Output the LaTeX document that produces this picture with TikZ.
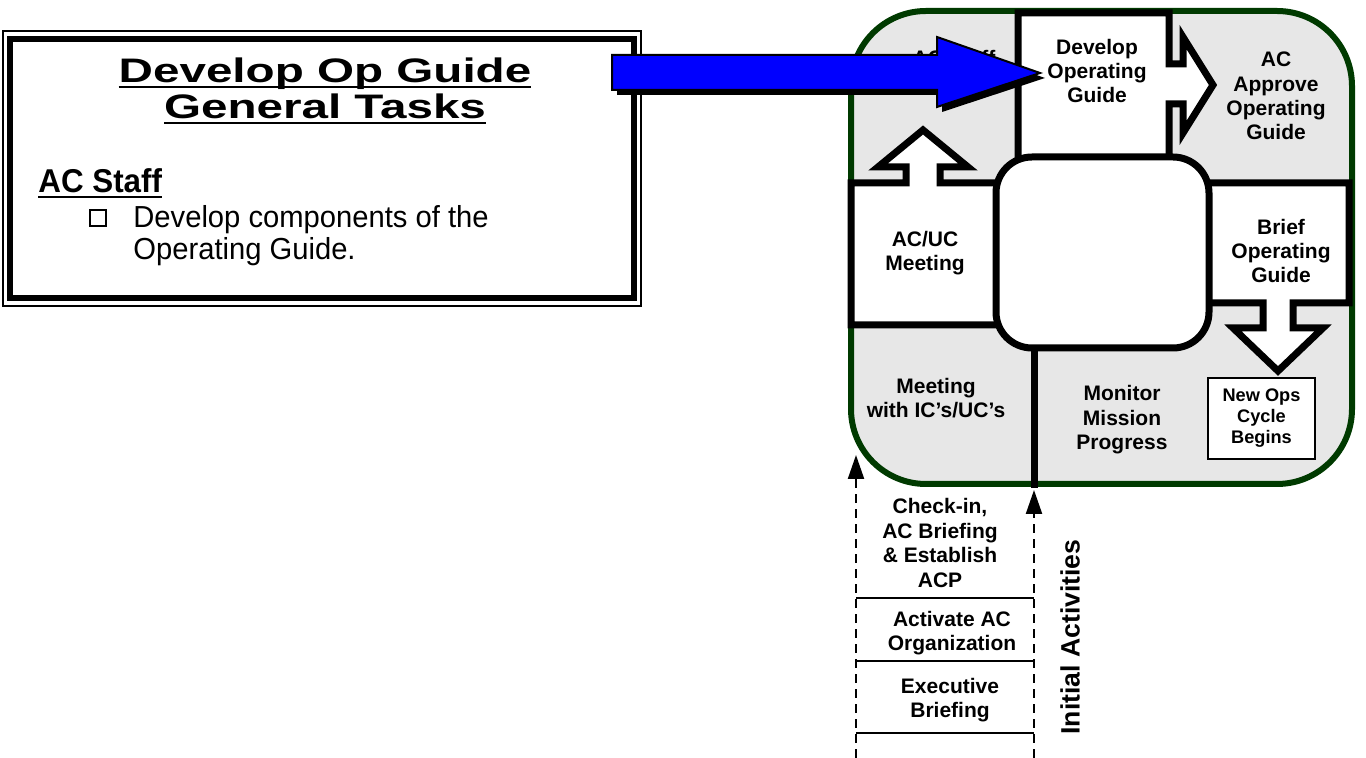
\documentclass[tikz,border=0pt]{standalone}
\usepackage{fontspec}
\setmainfont{Liberation Sans}
\newfontfamily\titlefont[FakeStretch=1.4]{Liberation Sans}
\newfontfamily\headfont[FakeStretch=0.95]{Liberation Sans}
\newfontfamily\narrowfont[FakeStretch=0.96]{Liberation Sans}
\usetikzlibrary{arrows.meta}

\definecolor{panelgray}{RGB}{231,231,231}
\definecolor{rimgreen}{RGB}{0,58,0}
\definecolor{pointerblue}{RGB}{0,0,255}

% underline at a fixed depth, crossing the descenders
\newsavebox\ulbox
\newcommand{\ultext}[1]{\sbox\ulbox{#1}\rlap{\rule[-2.6pt]{\wd\ulbox}{1.2pt}}\usebox\ulbox}

\tikzset{
  cell/.style={fill=white, draw=black, line width=3.5pt, line join=miter},
  celltext/.style={font=\fontsize{10.5}{12.2}\selectfont\bfseries, align=center, inner sep=0pt},
  flowdash/.style={line width=1.1pt, dash pattern=on 4.5pt off 3pt, -{Triangle[length=12pt,width=8pt]}},
}

\begin{document}
\begin{tikzpicture}[x=0.5pt, y=-0.5pt]

    \useasboundingbox (0,0) rectangle (1366,758);

    % Task box on the left
    \draw[line width=1pt] (3,31) rectangle (641,306);
    \draw[line width=3pt] (10,39) rectangle (634,298);

    \node[font=\titlefont\fontsize{17}{20}\selectfont\bfseries, anchor=base, inner sep=0pt] (titleA) at (325,83) {\ultext{Develop Op Guide}};
    \node[font=\titlefont\fontsize{17}{20}\selectfont\bfseries, anchor=base, inner sep=0pt] (titleB) at (325,119) {\ultext{General Tasks}};

    \node[font=\headfont\fontsize{16.5}{19}\selectfont\bfseries, anchor=base west, inner sep=0pt] (staffhead) at (38,193) {\ultext{AC Staff}};
    \node[draw, line width=0.7pt, minimum size=8pt, inner sep=0pt] (tickbox) at (98,218) {};
    \node[font=\narrowfont\fontsize{15.2}{17}\selectfont, anchor=base west, inner sep=0pt] (taskA) at (133,228) {Develop components of the};
    \node[font=\narrowfont\fontsize{15.2}{17}\selectfont, anchor=base west, inner sep=0pt] (taskB) at (133,260) {Operating Guide.};

    % Outer panel of the cycle
    \draw[rimgreen, fill=panelgray, line width=3pt, rounded corners=37.5pt] (851,11) rectangle (1352,484);

    % Text under the pointer
    \node[celltext] (acstaff) at (954,58) {AC Staff};

    % Develop box with its arrow to the right
    \draw[cell] (1018,165) -- (1018,13) -- (1169,13) -- (1169,64) -- (1183,64) -- (1183,37)
        -- (1213,85) -- (1183,133) -- (1183,104) -- (1169,104) -- (1169,165) -- cycle;

    % AC/UC box with its arrow up
    \draw[cell] (1010,183) -- (940,183) -- (940,167) -- (968,167) -- (923,130) -- (878,167)
        -- (906,167) -- (906,183) -- (851,183) -- (851,325) -- (1010,325) -- cycle;

    % Brief box with its arrow down
    \draw[cell] (1200,183) -- (1349,183) -- (1349,303) -- (1293,303) -- (1293,328) -- (1323,328)
        -- (1278,371) -- (1233,328) -- (1263,328) -- (1263,303) -- (1200,303) -- cycle;

    % Hub in the middle
    \node[cell, rounded corners=18pt, minimum width=106.5pt, minimum height=95.5pt] (hub) at (1102.5,252.5) {};

    % Divider below the hub
    \coordinate (rimcut) at (1034,488);
    \draw[line width=3.5pt] (rimcut |- hub.south) -- (rimcut);

    % Labels of the cycle
    \node[celltext] (develop) at (1097,71) {Develop\\Operating\\Guide};
    \node[celltext] (approve) at (1276,96) {AC\\Approve\\Operating\\Guide};
    \node[celltext] (acuc) at (925,253) {AC/UC\\Meeting};
    \node[celltext] (brief) at (1281,251) {Brief\\Operating\\Guide};
    \node[celltext] (meetic) at (936,398) {Meeting\\with IC’s/UC’s};
    \node[celltext] (monitor) at (1122,420) {Monitor\\Mission\\Progress};
    \node[draw, line width=1.2pt, fill=white, minimum width=53.5pt, minimum height=40.5pt,
        font=\fontsize{9.1}{10.5}\selectfont\bfseries, align=center, inner sep=0pt] (newops) at (1261.5,418.5) {New Ops\\Cycle\\Begins};

    % Initial activities below the panel
    \coordinate (leftfoot) at (856,758);
    \coordinate (lefttip) at (856,455);
    \coordinate (rightfoot) at (1034,758);
    \coordinate (righttip) at (1034,490);
    \draw[flowdash] (leftfoot) -- (lefttip);
    \draw[flowdash] (rightfoot) -- (righttip);

    \draw[line width=1pt] (lefttip |- 0,598) -- (righttip |- 0,598);
    \draw[line width=1pt] (lefttip |- 0,661) -- (righttip |- 0,661);
    \draw[line width=1pt] (lefttip |- 0,733) -- (righttip |- 0,733);

    \node[celltext] (checkin) at (940,543) {Check-in,\\AC Briefing\\\& Establish\\ACP};
    \node[celltext] (activate) at (952,633) {Activate AC\\Organization};
    \node[celltext] (executive) at (950,700) {Executive\\Briefing};
    \node[font=\fontsize{13.3}{16}\selectfont\bfseries, rotate=90, inner sep=0pt] (initial) at (1070,637) {Initial Activities};

    % Blue pointer with its shadow
    \begin{scope}[shift={(5,5)}]
        \fill[black] (612,55) -- (937,55) -- (937,37) -- (1040,73) -- (937,107) -- (937,90) -- (612,90) -- cycle;
    \end{scope}
    \draw[fill=pointerblue, line width=1pt, line join=miter] (612,55) -- (937,55) -- (937,37) -- (1040,73)
        -- (937,107) -- (937,90) -- (612,90) -- cycle;

\end{tikzpicture}
\end{document}
